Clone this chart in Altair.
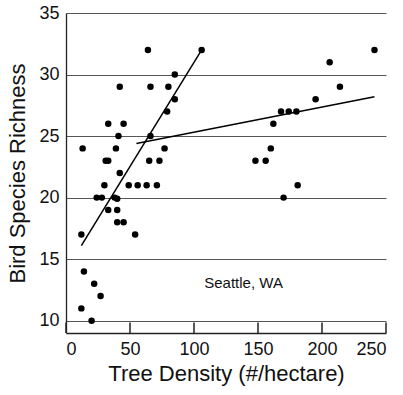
import altair as alt
import pandas as pd

# Scatter points (tree density, bird species richness)
density = [64, 85, 42, 66, 80, 85, 79, 33, 45, 41, 66, 13, 39, 77, 31, 33, 65, 73, 42,
           30, 49, 56, 63, 71, 24, 28, 38, 40, 33, 40, 40, 45, 12, 54, 14, 22, 27, 12, 20,
           106, 241, 206, 214, 195, 168, 174, 180, 162, 160, 148, 156, 181, 170]
richness = [32, 30, 29, 29, 29, 28, 27, 26, 26, 25, 25, 24, 24, 24, 23, 23, 23, 23, 22,
            21, 21, 21, 21, 21, 20, 20, 20, 19.9, 19, 19, 18, 18, 17, 17, 14, 13, 12, 11, 10,
            32, 32, 31, 29, 28, 27, 27, 27, 26, 24, 23, 23, 21, 20]

# Fitted lines (segment endpoints)
line_id = ["a", "a", "b", "b"]
line_x = [12, 106, 55, 241]
line_y = [16.1, 32, 24.4, 28.2]

x_ticks = [0, 50, 100, 150, 200, 250]
y_ticks = [10, 15, 20, 25, 30, 35]

label_text = ["Seattle, WA"]
label_x = [108]
label_y = [13.1]

pts = pd.DataFrame({"x": density, "y": richness})
lines = pd.DataFrame({"id": line_id, "x": line_x, "y": line_y})
ticks = pd.DataFrame({"tx": x_ticks, "ta": [9.0] * len(x_ticks), "tb": [9.85] * len(x_ticks)})
lab = pd.DataFrame({"t": label_text, "x": label_x, "y": label_y})

FONT = "Liberation Sans"
xs = alt.Scale(domain=[0, 250], nice=False, zero=False)
ys = alt.Scale(domain=[9, 35], nice=False, zero=False)

xaxis = alt.Axis(title="Tree Density (#/hectare)", values=x_ticks, grid=False, ticks=False,
                 labelPadding=7, titlePadding=5, domainColor="#222", domainWidth=1.3)
yaxis = alt.Axis(title="Bird Species Richness", values=y_ticks, grid=True, ticks=False,
                 gridColor="#555", gridWidth=1, labelPadding=7, titlePadding=9,
                 domainColor="#222", domainWidth=1.3)

points = alt.Chart(pts).mark_circle(color="black", opacity=1, size=42).encode(
    x=alt.X("x:Q", scale=xs, axis=xaxis),
    y=alt.Y("y:Q", scale=ys, axis=yaxis),
)

fit = alt.Chart(lines).mark_line(color="black", strokeWidth=1.5).encode(
    x=alt.X("x:Q", scale=xs),
    y=alt.Y("y:Q", scale=ys),
    detail="id:N",
)

txt = alt.Chart(lab).mark_text(align="left", baseline="middle", fontSize=15, font=FONT,
                               color="#111").encode(
    x=alt.X("x:Q", scale=xs),
    y=alt.Y("y:Q", scale=ys),
    text="t:N",
)

tk = alt.Chart(ticks).mark_rule(color="#222", strokeWidth=1.5).encode(
    x=alt.X("tx:Q", scale=xs),
    y=alt.Y("ta:Q", scale=ys),
    y2="tb:Q",
)

chart = alt.layer(points, fit, txt, tk).properties(
    width=320, height=320,
    autosize=alt.AutoSizeParams(type="none"),
    padding={"left": 66, "top": 13, "right": 17, "bottom": 62},
).configure_view(stroke=None).configure_axis(
    labelFont=FONT, titleFont=FONT, labelFontSize=18, titleFontSize=22,
    labelColor="#111", titleColor="#111", titleFontWeight="normal",
)

chart.save("out.html", embed_options={"renderer": "svg", "actions": False})
